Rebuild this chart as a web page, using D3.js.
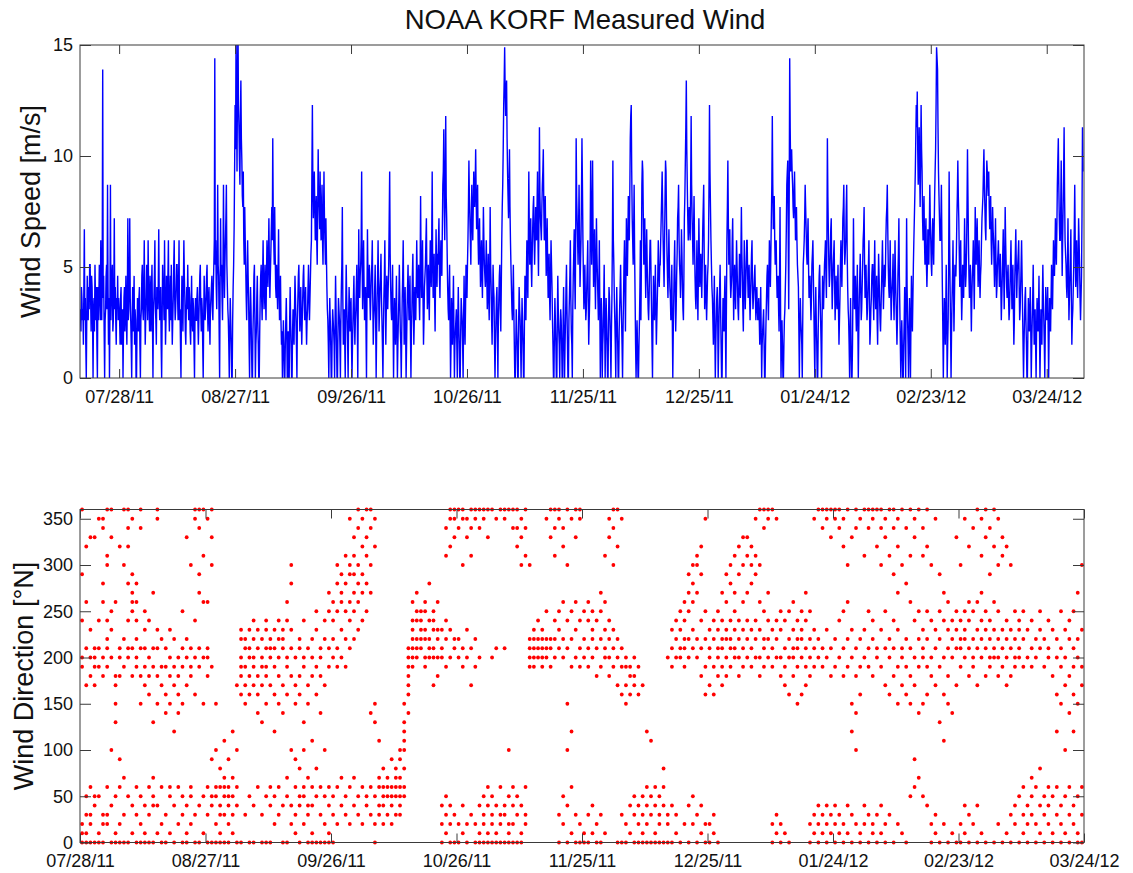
<!DOCTYPE html>
<html>
<head>
<meta charset="utf-8">
<title>NOAA KORF Measured Wind</title>
<script src="https://cdn.jsdelivr.net/npm/d3@7"></script>
<style>
  html, body { margin: 0; padding: 0; background: #ffffff; }
  svg { display: block; }
</style>
</head>
<body>
<svg id="chart" width="1133" height="873"></svg>
<script>
// ---------- tick labels and axis values ----------
const tickLabels = ["07/28/11","08/27/11","09/26/11","10/26/11","11/25/11","12/25/11","01/24/12","02/23/12","03/24/12"];
const speedTicks = [0, 5, 10, 15];
const dirTicks = [0, 50, 100, 150, 200, 250, 300, 350];

// ---------- wind speed [m/s], 3-hourly, one block per 30 days ----------
const speedBlockStarts = ["2011-07-18","2011-08-17","2011-09-16","2011-10-16","2011-11-15","2011-12-15","2012-01-14","2012-02-13","2012-03-14"];
const speedStepHours = 3;
const speed0718 = [3.1,2.1,4.1,3.6,2.6,3.1,1.5,4.1,6.7,2.6,3.6,1.5,0,2.6,4.6,3.1,2.6,4.1,3.1,5.1, 5.1,3.6,2.1,4.6,4.1,2.6,0,3.1,3.6,2.1,5.1,3.6,2.6,4.1,1.5,0,4.1,2.6,3.6,5.1, 4.1,2.6,6.2,3.6,2.6,5.1,13.9,3.6,4.6,2.1,0,2.6,3.1,4.6,5.1,3.1,8.7,4.1,1.5,3.6, 0,3.1,8.7,2.6,3.6,4.6,5.1,2.1,2.6,4.1,7.2,3.1,4.1,2.6,1.5,3.6,3.1,4.6,2.6,3.6, 3.1,2.6,1.5,3.6,4.1,1.5,2.6,3.1,0,2.1,3.6,4.1,2.1,3.1,4.6,2.6,1.5,3.6,7.2,2.6, 3.1,4.6,7.2,3.6,2.6,1.5,0,2.6,4.1,2.1,3.1,4.6,1.5,3.1,2.6,0,0,2.1,3.6,2.6, 2.1,3.6,4.1,1.5,0,2.6,3.1,4.6,5.1,3.1,2.6,4.1,6.2,3.6,1.5,2.6,3.6,5.1,4.6,2.6, 6.2,4.1,3.1,2.1,4.6,3.6,2.1,4.1,5.1,2.6,0,3.1,3.6,4.6,6.2,3.1,2.6,1.5,4.1,3.6, 3.1,4.1,6.7,3.6,2.6,3.1,4.1,1.5,0,2.6,5.1,4.1,3.6,2.6,6.2,3.6,1.5,2.6,4.6,3.6, 3.1,4.6,6.2,3.1,2.1,3.6,4.6,2.6,5.1,3.1,1.5,2.6,3.6,5.1,6.2,3.6,2.6,3.1,4.1,5.1, 5.1,3.6,2.6,4.1,6.2,2.6,3.1,1.5,0,3.1,4.6,3.6,2.1,4.1,6.2,4.6,3.6,2.1,1.5,3.1, 4.1,3.1,5.1,3.6,2.6,4.1,3.6,2.1,1.5,3.1,4.6,2.6,2.1,3.6,3.1,1.5,0,2.6,3.6,2.6];
const speed0817 = [2.6,3.6,4.1,2.6,1.5,2.6,3.6,4.6,5.1,3.1,2.1,3.6,3.1,1.5,0,2.6,4.6,3.6,2.6,3.1, 3.6,4.6,5.1,3.1,2.1,3.6,4.1,2.6,1.5,3.1,3.6,4.1,4.6,3.1,2.6,4.1,5.1,6.2,14.4,5.1, 6.2,4.1,3.1,5.1,8.7,5.1,4.6,2.1,0,4.1,7.2,4.6,5.1,3.6,2.6,5.1,8.7,5.6,3.6,5.1, 6.2,7.2,8.7,5.1,4.1,3.1,2.6,1.5,0,2.1,3.6,2.6,1.5,0,0,2.6,4.1,5.1,6.7,9.3, 12.3,10.3,15.4,12.9,9.3,13.4,15.9,12.3,11.3,9.8,8.7,11.8,13.4,10.8,9.8,8.2,7.7,9.3,6.2,5.1, 7.7,6.2,5.1,3.6,2.6,4.1,6.2,4.6,3.6,1.5,0,2.6,4.1,3.1,1.5,0,0,2.1,3.1,4.6, 5.1,2.6,0,1.5,2.1,3.6,4.6,2.6,1.5,0,0,2.1,3.6,4.6,5.1,3.6,2.6,4.6,6.2,4.1, 3.1,4.1,5.1,3.6,2.6,4.6,6.2,5.1,4.1,5.6,7.2,5.1,3.6,4.6,5.6,6.7,7.7,6.2,10.8,7.2, 6.2,5.1,7.7,5.6,4.1,3.6,5.1,4.1,3.1,4.6,6.7,4.1,2.6,3.6,4.6,2.6,1.5,2.1,0,1.5, 2.6,1.5,0,0,1.5,2.6,3.6,2.1,0,1.5,2.1,0,0,2.6,4.1,2.6,1.5,0,0,2.1, 3.1,2.1,1.5,3.1,4.6,3.6,2.6,1.5,0,2.6,3.6,4.6,5.1,3.6,2.1,3.1,4.1,2.6,1.5,2.6, 3.6,4.6,5.1,3.6,2.6,3.1,4.1,2.6,1.5,2.6,3.1,4.1,5.1,3.6,2.6,3.6,4.6,5.6,6.2,9.3];
const speed0916 = [12.3,8.7,7.2,8.2,9.3,7.7,6.2,7.2,8.2,6.2,5.1,7.7,10.3,8.2,7.7,6.7,9.3,7.2,6.2,7.7, 8.7,6.2,5.1,7.2,9.3,7.2,6.2,5.1,7.2,5.6,4.1,3.1,2.6,1.5,0,2.1,3.6,2.6,1.5,0, 0,2.1,3.1,2.6,2.1,1.5,0,2.6,4.6,3.1,1.5,0,0,2.1,3.6,3.1,2.6,1.5,0,2.6, 4.1,5.1,7.7,3.6,1.5,2.6,3.1,1.5,0,3.1,5.1,3.6,2.6,1.5,0,2.6,4.1,3.1,2.1,3.1, 3.6,1.5,0,1.5,2.6,3.6,4.6,2.6,1.5,2.6,3.1,4.1,5.1,2.6,0,3.6,6.7,4.1,3.6,4.6, 5.1,6.2,9.3,5.1,3.1,4.6,6.2,4.1,2.6,3.6,4.1,2.1,0,3.6,6.7,4.6,3.6,4.1,5.1,3.6, 2.6,3.6,4.6,5.1,6.2,3.6,1.5,2.6,3.1,4.1,5.1,2.6,0,2.1,3.6,4.6,6.2,4.1,2.1,3.1, 4.1,4.6,5.6,3.6,2.6,1.5,0,2.1,3.6,4.6,6.2,3.6,1.5,3.1,4.6,3.6,3.1,4.1,5.1,7.2, 9.3,5.6,4.1,3.1,2.6,3.6,5.1,2.6,0,2.1,3.6,2.6,1.5,3.1,4.6,2.1,0,1.5,2.6,3.6, 5.1,3.6,2.1,1.5,0,2.1,3.6,4.6,6.2,3.6,1.5,2.6,4.1,2.1,0,1.5,3.1,4.1,5.1,3.6, 2.6,3.6,4.6,2.1,0,2.1,3.1,4.6,5.6,3.6,1.5,2.6,4.1,3.6,2.6,4.1,6.2,4.6,3.6,4.1, 5.1,3.6,2.6,4.6,8.2,5.1,3.6,4.6,6.2,3.6,1.5,2.6,4.1,4.6,5.1,6.2,7.2,4.6,3.1,4.1];
const speed1016 = [5.1,3.6,2.6,4.6,6.2,5.1,4.1,6.2,9.3,5.1,3.6,4.6,5.6,3.6,2.1,4.6,6.7,5.1,4.1,5.6, 5.1,6.2,7.2,4.6,3.6,5.1,6.2,5.1,4.6,6.7,8.7,9.3,11.2,7.7,6.2,8.7,11.8,8.2,7.2,5.6, 4.1,3.1,2.6,4.1,5.1,2.6,0,1.5,3.6,2.6,1.5,3.1,4.6,2.1,0,1.5,2.1,2.6,3.1,1.5, 0,2.6,4.1,2.6,1.5,0,0,2.1,3.6,3.1,2.6,1.5,0,2.6,4.6,2.6,1.5,3.1,5.1,4.1, 3.6,5.1,6.2,7.7,9.8,8.2,7.2,6.2,5.1,7.2,8.7,7.2,6.2,7.7,9.3,8.2,7.7,8.7,10.3,8.2, 6.7,7.7,8.7,6.2,5.1,6.2,7.2,5.6,4.1,5.1,6.2,4.6,3.6,5.6,7.7,6.2,5.1,4.6,4.1,5.1, 6.2,4.6,3.1,4.1,5.6,3.6,2.6,4.6,7.7,5.1,4.1,2.6,1.5,3.1,5.1,4.1,3.6,1.5,0,1.5, 2.6,3.6,4.1,2.1,0,2.6,3.6,4.6,5.1,3.1,2.1,4.1,6.2,7.7,8.7,10.3,12.3,13.4,14.9,12.9, 11.8,12.9,13.4,10.8,9.3,8.2,7.2,8.7,10.3,7.7,6.2,5.1,4.1,3.1,2.6,3.6,5.1,3.1,1.5,0, 0,1.5,3.1,2.1,1.5,0,0,2.6,4.1,3.1,2.6,1.5,0,2.1,3.6,2.6,1.5,0,0,2.6, 4.6,3.6,2.6,4.6,6.2,4.6,3.6,6.2,9.3,6.7,5.1,6.2,7.2,5.1,4.1,5.6,6.7,7.7,8.2,6.2, 5.1,6.2,7.7,6.7,6.2,7.7,9.3,6.2,4.6,7.2,11.3,8.2,7.2,6.7,6.2,7.7,8.7,9.3,10.3,7.7];
const speed1115 = [6.2,7.2,8.2,6.2,4.6,5.6,7.2,5.1,3.6,4.6,5.6,3.6,2.6,4.6,6.2,5.1,4.1,2.6,1.5,0, 0,2.1,3.6,2.6,1.5,0,0,2.6,4.6,3.1,2.1,1.5,0,2.1,3.1,2.6,1.5,0,0,2.6, 4.1,2.1,0,1.5,2.6,4.1,5.1,3.1,1.5,0,0,2.6,3.6,4.6,6.2,3.6,2.1,1.5,0,3.1, 4.6,5.6,6.7,4.6,3.1,6.2,10.8,8.2,7.2,6.2,5.1,6.7,8.7,6.2,4.1,5.1,6.2,8.2,10.8,8.7, 6.2,4.6,3.1,4.1,5.1,3.6,2.6,3.1,4.1,5.1,6.2,3.6,1.5,2.6,3.6,6.2,9.8,7.2,5.1,7.2, 9.8,6.2,4.1,5.1,6.7,4.6,3.1,5.1,7.2,5.6,4.6,3.6,2.6,4.1,6.2,3.1,0,2.1,3.6,2.6, 0,1.5,2.1,3.6,5.1,2.6,0,2.1,3.6,2.6,1.5,0,0,2.6,4.1,3.6,2.6,1.5,0,2.1, 3.6,6.2,9.8,6.2,5.1,3.6,2.6,1.5,0,2.6,4.1,2.6,1.5,0,0,2.1,3.1,4.1,5.1,3.6, 2.6,1.5,0,2.1,3.6,5.1,6.2,4.1,2.1,4.6,7.2,5.6,4.6,6.2,8.2,7.2,6.2,8.2,10.8,11.8, 12.3,9.3,7.2,6.2,5.1,6.7,8.7,5.6,3.6,1.5,0,1.5,2.6,1.5,0,0,1.5,2.6,4.1,6.2, 2.6,5.1,8.7,9.8,9.3,7.2,5.1,6.2,7.2,5.1,3.6,5.1,6.7,5.1,4.1,3.1,2.6,3.6,5.1,6.2, 6.2,4.6,3.1,1.5,0,2.6,4.6,3.6,2.6,3.6,5.1,3.1,1.5,2.6,3.6,4.6,6.2,5.1,4.1,5.1];
const speed1215 = [5.1,6.2,7.2,8.2,9.3,7.7,6.2,5.1,4.1,6.2,8.2,9.8,9.3,7.2,5.6,4.6,3.6,5.1,6.7,5.1, 4.1,3.6,2.6,3.6,5.1,2.6,0,2.1,3.6,5.1,6.2,4.1,2.1,3.1,4.6,5.6,7.2,7.7,8.7,6.2, 5.1,4.6,3.6,5.1,6.7,5.6,4.1,3.1,2.6,4.6,7.2,8.2,9.8,11.3,13.4,10.3,8.7,7.2,6.2,7.2, 7.7,6.7,6.2,8.7,11.8,8.7,7.2,6.2,5.1,6.7,8.2,6.2,4.6,3.6,3.1,4.6,6.2,4.1,2.6,4.6, 7.2,5.6,4.1,4.6,5.6,4.6,3.6,5.1,6.7,7.7,8.7,5.6,3.1,4.1,5.1,3.6,2.6,3.6,4.6,5.1, 6.2,8.7,12.3,9.3,7.7,6.2,5.1,4.1,3.6,2.6,1.5,3.1,4.6,2.1,0,1.5,2.6,3.6,4.1,2.6, 0,1.5,3.1,4.1,5.1,3.1,1.5,0,0,2.1,3.6,2.6,2.1,3.6,4.6,2.1,0,3.1,6.2,7.7, 9.8,7.2,5.1,6.2,6.7,4.6,3.6,4.1,4.6,6.2,7.2,4.6,2.6,4.1,5.1,4.1,3.1,4.6,6.2,5.1, 4.1,3.1,2.6,4.1,5.6,4.1,3.6,5.6,7.7,5.6,4.6,3.1,2.1,4.1,6.2,4.6,3.1,4.1,5.1,6.2, 6.2,4.6,3.6,4.6,5.1,3.6,2.6,3.6,4.6,5.6,6.2,4.1,3.1,3.6,4.1,4.6,5.1,3.6,2.6,3.6, 4.1,3.1,2.6,3.1,3.6,2.6,1.5,2.6,4.1,2.1,0,1.5,2.1,2.6,3.1,1.5,0,0,1.5,2.6, 3.6,4.6,5.1,3.6,2.6,4.6,6.2,5.1,4.1,5.6,7.2,8.7,11.8,8.7,6.7,7.7,8.2,6.2,5.1,5.6];
const speed0114 = [6.2,4.6,3.6,4.1,4.6,3.1,2.1,4.6,7.7,3.6,0,1.5,2.6,1.5,0,0,1.5,2.6,3.1,4.1, 5.1,6.7,8.7,9.3,9.8,6.2,3.1,8.2,14.4,11.3,9.3,9.8,10.3,9.3,8.7,7.7,7.2,8.2,9.3,7.7, 6.2,6.7,7.7,6.2,5.1,4.6,4.1,2.1,0,2.1,3.6,2.6,2.1,1.5,0,2.6,5.1,5.6,6.2,7.2, 8.7,7.7,6.7,5.6,5.1,6.2,7.2,5.1,3.6,4.1,4.6,3.6,2.6,3.6,5.1,5.6,6.2,4.6,3.1,1.5, 0,2.6,4.1,2.6,1.5,0,0,2.1,3.6,4.6,5.1,3.6,2.6,1.5,0,2.6,4.6,3.6,3.1,4.1, 5.1,5.6,6.2,4.6,3.6,6.2,10.8,8.2,6.7,5.1,4.1,4.6,5.6,6.7,7.2,4.6,3.1,4.1,5.1,5.6, 6.2,4.1,2.6,3.6,4.6,3.6,3.1,4.1,5.1,3.1,1.5,2.6,3.6,5.1,6.2,5.1,4.1,5.6,7.2,7.7, 8.7,6.2,5.1,5.6,6.2,7.7,8.7,5.6,4.1,3.1,2.6,1.5,0,2.1,3.6,1.5,0,0,1.5,4.1, 7.2,4.6,3.1,3.6,4.6,3.1,2.1,3.6,5.1,2.6,0,2.1,3.6,4.6,5.6,4.1,2.6,3.1,4.1,5.1, 6.2,6.7,7.7,5.1,3.6,4.6,5.1,3.6,2.6,3.1,4.1,5.1,6.2,3.6,1.5,2.1,3.1,3.6,4.6,5.1, 5.1,3.6,2.6,4.6,6.2,4.1,3.1,3.6,4.6,2.6,1.5,3.6,5.6,4.6,3.6,2.6,2.1,3.1,4.1,5.1, 6.2,4.6,3.1,4.1,5.1,4.1,4.6,6.2,7.2,7.7,8.7,6.7,5.1,4.1,3.6,4.6,6.2,4.1,2.6,3.6];
const speed0213 = [4.1,4.6,5.6,3.6,2.6,4.1,6.2,4.6,3.6,2.6,1.5,2.6,4.6,5.6,7.2,4.6,3.1,1.5,0,1.5, 2.6,1.5,0,0,1.5,2.6,4.1,2.1,0,3.6,7.2,4.1,2.6,1.5,0,2.1,3.6,2.1,0,2.6, 4.6,3.1,2.1,3.6,5.1,6.2,7.2,8.2,9.3,10.8,12.3,11.3,12.9,10.3,8.7,9.8,11.3,9.3,7.7,9.8, 12.3,10.3,9.3,7.2,6.2,7.2,8.2,6.2,5.1,6.2,7.2,5.1,4.1,5.1,6.7,5.6,5.1,6.7,8.7,7.2, 6.2,5.1,4.6,6.2,7.2,6.2,5.1,6.7,8.2,9.3,10.3,12.3,14.9,14.4,13.9,11.3,9.3,8.2,7.2,6.2, 6.2,7.2,8.7,6.2,4.1,2.1,0,2.1,3.6,2.6,1.5,3.1,5.1,2.6,0,1.5,2.6,5.1,9.3,6.2, 4.1,2.1,0,2.1,3.6,4.6,6.2,4.1,2.1,3.6,5.1,4.6,4.6,5.6,7.2,8.2,9.8,8.2,7.2,5.6, 4.1,5.1,6.2,4.1,2.6,3.6,5.1,4.6,3.6,5.1,7.2,5.6,4.1,4.6,5.6,7.7,10.3,8.2,6.2,4.6, 3.6,4.1,5.1,3.6,2.1,3.6,4.6,5.1,6.2,4.6,3.1,5.1,7.7,6.2,5.1,6.2,7.2,5.6,4.1,5.1, 6.2,4.6,3.6,4.6,5.1,6.2,7.2,7.7,8.2,9.3,10.3,8.7,7.7,6.7,6.2,8.2,9.8,9.3,8.7,8.2, 9.3,7.7,6.7,7.2,8.2,6.2,5.1,6.2,7.7,6.7,6.2,5.1,4.1,5.6,7.2,5.1,3.6,4.1,5.1,5.6, 6.2,5.1,4.1,4.6,5.6,4.1,2.6,3.6,4.6,5.6,6.7,4.6,3.1,5.1,7.7,6.2,5.1,4.1,3.6,4.6];
const speed0314 = [5.1,3.6,2.6,3.1,4.1,5.1,6.2,4.6,3.1,4.1,5.1,3.1,1.5,2.6,4.6,5.6,6.7,5.1,3.6,4.6, 5.1,5.6,6.2,4.1,2.6,3.1,4.1,5.1,6.2,4.6,3.1,1.5,0,1.5,2.6,3.6,4.1,2.6,1.5,0, 0,2.1,3.6,2.6,2.1,3.1,4.1,2.1,0,1.5,2.6,3.6,5.1,3.1,1.5,2.6,3.1,1.5,0,2.1, 3.6,2.6,2.1,3.1,4.6,2.1,0,1.5,3.1,2.6,1.5,3.6,5.1,3.6,2.6,1.5,0,2.1,4.1,3.1, 2.6,3.1,4.1,2.1,0,2.1,3.6,2.6,2.1,3.6,5.1,4.1,3.1,4.6,6.2,5.1,4.6,5.6,7.2,6.2, 5.1,6.7,8.7,9.8,10.8,8.7,7.2,6.2,6.2,7.7,9.8,6.7,4.6,6.2,7.7,9.3,11.3,8.2,6.2,5.6, 5.1,4.1,3.6,5.1,7.2,4.6,2.6,3.6,4.6,5.6,6.7,3.6,1.5,2.6,3.1,4.1,5.1,6.7,8.7,6.2, 4.1,5.1,6.2,4.6,3.6,5.1,7.2,6.2,5.1,3.6,2.6,3.6,4.6,7.2,11.3,9.3];

// ---------- wind direction [deg from N], readings for each day, one block per 30 days ----------
const dir0728 = [[0,10,20,190,200,240,290,360],[0,10,30,50,170,210,260,320],[0,20,30,60,180,200,230,330],[0,40,50,170,190,200,210,330],[0,10,50,190,210,240,350],[0,20,30,180,200,260,280,340,350],[20,30,60,190,210,220,240,300,310,360],[0,40,100,200,230,250,330,360],[0,10,50,130,150,170,180,260],[0,20,60,90,180,200,210,320],[0,30,70,190,220,300,360],[0,50,200,210,240,280,320,340,360],[10,40,180,210,250,260,270,290,350],[0,30,60,190,200,220,240,260,280],[0,20,50,150,180,210,340,360],[0,10,40,170,190,210,230,250],[0,30,60,160,180,200,240],[0,40,50,70,130,190,210,270],[10,40,150,180,210,230,350,360],[0,20,60,170,190,220],[0,30,140,160,190,210],[10,50,60,150,180,200,230],[0,40,120,170,190,220],[20,60,140,160,180,200],[0,30,50,150,190,210,250],[0,10,40,170,200,220,330],[20,50,60,180,190,210,300],[0,30,160,200,240,350,360],[0,40,190,210,270,290,340,360],[10,50,150,200,260,310,360]];
const dir0827 = [[0,30,60,180,200,210,260,350],[0,40,50,90,190,300,330,360],[0,20,50,60,100,150],[0,10,30,40,60,80],[0,30,50,60,70,110],[0,20,40,50,60,90],[10,30,50,70,120],[0,40,60,100,170],[0,160,180,190,200,220,230],[30,150,170,190,210,220],[0,50,160,180,200,210,230],[0,40,170,190,200,220,240],[60,140,160,180,210,230],[0,30,130,170,190,200,220],[0,50,150,180,190,210,230,240],[0,40,60,170,200,210,220],[20,50,120,160,190,210,230],[30,60,150,180,200,220,240],[0,40,140,170,210,220,230],[0,50,70,160,190,200,240,260],[20,40,100,180,210,230,280,300],[10,30,60,90,150,170,200],[0,40,50,80,160,180,210,220],[20,50,60,100,130,190,200,240],[0,30,40,70,150,170,210],[0,10,40,60,110,180,200,220],[0,50,80,160,190,230,250],[0,30,60,140,180,200,210],[0,20,50,100,170,220,240],[0,10,40,60,190,210,250,270]];
const dir0926 = [[0,30,50,200,220,240,260],[20,60,190,210,250,280,300],[40,70,200,230,260,270,290],[30,50,190,220,250,280,310],[20,60,210,240,260,290,300,350],[40,70,220,250,270,290,310,330],[30,50,230,260,280,300,340,360],[20,60,240,270,290,320,350],[40,50,250,280,310,330,360],[30,60,140,270,300,340,360],[0,20,50,130,150,320,350],[30,40,60,70,110],[20,40,50,60,80],[30,50,60,70],[20,40,50,60,90],[30,50,60,70,80],[30,40,50,60,70,90,100],[50,60,80,100,110,120,130,150],[140,160,170,180,190,200,210],[190,200,210,220,230,240,260],[200,210,220,240,250,270],[210,220,230,240,250],[190,200,220,230,250,260],[200,210,220,240,280],[170,200,210,230,240,250],[180,200,220,230,260],[0,20,40,200,210,230],[10,30,50,190,220,240,310,340],[0,20,40,200,230,320,350,360],[0,30,210,220,330,350,360]];
const dir1026 = [[0,20,200,220,340,360],[10,40,190,210,300,350,360],[0,20,200,230,330,350],[30,170,210,310,340,360],[0,20,190,220,350,360],[0,10,40,200,340,360],[0,20,30,50,350,360],[0,10,40,60,330,360],[0,20,30,50,200,360],[0,10,40,210,350],[0,20,30,60,360],[0,30,40,210,350,360],[0,10,20,50,100,360],[0,20,40,60,340,360],[0,30,50,320,340,360],[0,10,40,300,330,350],[20,30,60,310,340,360],[190,200,210,220,300],[190,200,210,220,230],[200,210,220,240],[190,200,210,220,230],[200,210,220,250,350],[190,210,220,330,360],[200,220,240,310,340,360],[0,30,210,230,250,350,360],[20,50,200,220,260,320,340],[0,40,100,150,210,240,300,360],[10,60,120,190,220,250,350],[0,30,200,230,260,330,360],[0,20,190,210,240,350,360]];
const dir1125 = [[0,10,200,220,250],[0,30,190,210,240,260],[10,40,200,220,230,250],[0,20,180,210,240],[0,30,190,220,250,270],[10,200,210,230,260,310],[180,200,220,240,330,350],[190,210,230,300,340,360],[0,170,200,220,320,360],[0,30,160,190,210,350],[0,20,150,170,190,200],[10,40,160,180,190],[0,30,50,170,180,200],[0,20,40,160,190],[0,10,30,50,170],[0,20,40,60,120],[0,30,50,110],[0,10,40,60],[0,20,30,50],[0,40,60,80],[0,20,30,200],[0,40,190,210,230],[10,30,200,220,240],[0,200,210,230,250],[20,190,210,220,240,260],[0,40,200,220,250,270,290],[20,50,210,230,260,280,300],[0,30,200,220,270,300,310],[10,40,180,210,240,290,320],[0,20,160,190,220,250,350]];
const dir1225 = [[0,20,170,200,210,230],[10,30,160,190,220,240],[0,180,200,210,230,250],[170,190,210,220,240,270],[180,200,220,230,260,290],[190,210,220,240,280,300],[200,210,230,250,270,310],[180,200,220,240,290,320],[190,210,230,260,300,330],[200,220,240,270,310,330],[190,210,230,280,300,320],[200,220,240,290,310,350],[180,200,230,260,300,360],[190,210,220,250,340,360],[200,220,240,270,350,360],[0,20,190,210,230,360],[10,30,200,220,240,350],[0,20,180,200,230,250],[10,170,190,210,240],[0,160,200,220,250],[180,200,210,230,260],[150,190,210,220,240],[160,200,220,230,250],[170,190,210,240,270],[0,20,180,200,220,250],[10,30,190,210,230,350],[0,20,40,200,220,360],[10,30,190,210,340,360],[0,20,40,200,230,350,360],[10,30,180,210,330,360]];
const dir0124 = [[0,20,40,190,220,350,360],[10,30,200,240,340,360],[0,20,180,210,250,320,350],[10,40,190,220,260,300,360],[0,30,120,150,200,230,330],[20,100,140,180,210,340,360],[0,10,160,190,220,350],[20,40,200,230,310,360],[0,30,190,210,250,340,360],[10,20,180,220,240,350,360],[0,30,200,210,320,360],[10,40,190,230,300,340,360],[0,20,170,210,250,330,350],[30,160,200,220,310,360],[0,180,210,240,290,340,360],[20,150,190,230,270,320,350],[10,170,200,210,300,360],[0,160,190,220,280,340],[50,150,180,210,260,310,360],[60,90,170,200,240,330,350],[70,140,190,220,250,360],[50,150,200,210,230,310,340],[40,160,190,220,250,320,360],[0,20,180,200,240,300],[10,30,170,210,230,350],[0,130,190,220,250,290],[20,110,160,200,240,270],[0,150,180,210,230,260],[10,140,200,220,240],[0,170,210,230,250,330]];
const dir0223 = [[0,20,190,210,220,240,300],[10,40,200,220,230,250,350],[0,30,180,210,240,260,320],[20,190,200,220,250,340],[0,40,170,210,230,260,360],[10,200,220,240,270,310,350],[0,180,210,230,250,330,360],[190,200,220,240,290,340],[0,200,210,230,260,320,360],[20,180,200,220,250,300,350],[0,190,210,230,310,330],[10,170,200,220,240,320],[0,30,180,210,230,300],[20,40,190,200,220,250],[0,50,200,210,230,240],[10,30,60,190,220,250],[0,20,40,200,230],[30,50,70,190,210,240],[0,20,60,200,220],[10,40,80,210,230,250],[0,30,50,190,220],[20,40,60,200,210,240],[0,10,50,180,230],[30,60,120,160,200,220],[0,20,40,150,190,210,250],[10,50,100,170,200,230],[0,30,60,140,180,220,240],[20,40,120,160,190,210,250],[0,10,50,150,200,220,270],[0,30,60,170,190,230,300]];

// ---------- assemble the records ----------
const DAY = 864e5, HOUR = 36e5;
const parseTick = d3.utcParse("%m/%d/%y");
const tickDates = tickLabels.map(parseTick);

const speedBlocks = [speed0718, speed0817, speed0916, speed1016, speed1115, speed1215, speed0114, speed0213, speed0314];
const speedSeries = speedBlocks.flatMap((block, k) => {
  const t0 = Date.parse(speedBlockStarts[k] + "T00:00:00Z");
  return block.map((v, j) => ({ t: new Date(t0 + j * speedStepHours * HOUR), v }));
});

// each direction block starts on the matching tick date; a day's readings sit at midday
const dirBlocks = [dir0728, dir0827, dir0926, dir1026, dir1125, dir1225, dir0124, dir0223];
const dirSeries = dirBlocks.flatMap((days, k) => {
  const t0 = tickDates[k].getTime();
  return days.flatMap((vals, d) => vals.map(v => ({ t: new Date(t0 + (d + 0.5) * DAY), v })));
});

// ---------- layout ----------
const FONT = "'Liberation Sans', Arial, Helvetica, sans-serif";
const AXIS = "#3a3a3a";
const left = 80, right = 1084;
const top1 = 45, bottom1 = 378;
const top2 = 509.5, bottom2 = 842.5;

const svg = d3.select("#chart");

const xSpeed = d3.scaleUtc()
  .domain([new Date(Date.UTC(2011, 6, 17, 21)), new Date(Date.UTC(2012, 3, 2, 15, 30))])
  .range([left, right]);
const ySpeed = d3.scaleLinear().domain([0, 15]).range([bottom1, top1]);

const xDir = d3.scaleUtc().domain([tickDates[0], tickDates[tickDates.length - 1]]).range([left, right]);
const yDir = d3.scaleLinear().domain([0, 360]).range([bottom2, top2]);

// title
svg.append("text")
  .attr("x", 585).attr("y", 29)
  .attr("text-anchor", "middle")
  .attr("font-family", FONT).attr("font-size", 27.5)
  .attr("fill", "#111")
  .text("NOAA KORF Measured Wind");

// clip for the speed trace
svg.append("defs").append("clipPath").attr("id", "clipSpeed")
  .append("rect").attr("x", left).attr("y", top1)
  .attr("width", right - left).attr("height", bottom1 - top1);

// wind speed trace
svg.append("path")
  .datum(speedSeries)
  .attr("clip-path", "url(#clipSpeed)")
  .attr("fill", "none")
  .attr("stroke", "#0000ff")
  .attr("stroke-width", 1.4)
  .attr("d", d3.line().x(d => xSpeed(d.t)).y(d => ySpeed(d.v)));

// wind direction dots
svg.append("g")
  .selectAll("circle")
  .data(dirSeries)
  .join("circle")
  .attr("cx", d => xDir(d.t))
  .attr("cy", d => yDir(d.v))
  .attr("r", 1.9)
  .attr("fill", "#ff0000");

// boxed axes with inward ticks on all four sides
function drawFrame(x, y, yValues, top, bottom) {
  const style = g => {
    g.select(".domain").remove();
    g.selectAll("line").attr("stroke", AXIS);
    g.selectAll("text").attr("fill", "#111").attr("font-family", FONT).attr("font-size", 18);
  };
  svg.append("g").attr("transform", `translate(0,${bottom})`)
    .call(d3.axisBottom(x).tickValues(tickDates).tickFormat((d, i) => tickLabels[i])
      .tickSizeInner(-9).tickSizeOuter(0).tickPadding(12))
    .call(style);
  svg.append("g").attr("transform", `translate(0,${top})`)
    .call(d3.axisTop(x).tickValues(tickDates).tickFormat("").tickSizeInner(-9).tickSizeOuter(0))
    .call(style);
  svg.append("g").attr("transform", `translate(${left},0)`)
    .call(d3.axisLeft(y).tickValues(yValues).tickSizeInner(-11).tickSizeOuter(0).tickPadding(7))
    .call(style);
  svg.append("g").attr("transform", `translate(${right},0)`)
    .call(d3.axisRight(y).tickValues(yValues).tickFormat("").tickSizeInner(-11).tickSizeOuter(0))
    .call(style);
  svg.append("rect")
    .attr("x", left).attr("y", top)
    .attr("width", right - left).attr("height", bottom - top)
    .attr("fill", "none").attr("stroke", AXIS).attr("stroke-width", 1);
}

drawFrame(xSpeed, ySpeed, speedTicks, top1, bottom1);
drawFrame(xDir, yDir, dirTicks, top2, bottom2);

// y-axis titles
svg.append("text")
  .attr("transform", `translate(40,${(top1 + bottom1) / 2}) rotate(-90)`)
  .attr("text-anchor", "middle")
  .attr("font-family", FONT).attr("font-size", 27).attr("fill", "#111")
  .text("Wind Speed [m/s]");
svg.append("text")
  .attr("transform", `translate(33,${(top2 + bottom2) / 2}) rotate(-90)`)
  .attr("text-anchor", "middle")
  .attr("font-family", FONT).attr("font-size", 27).attr("fill", "#111")
  .text("Wind Direction [°N]");
</script>
</body>
</html>
